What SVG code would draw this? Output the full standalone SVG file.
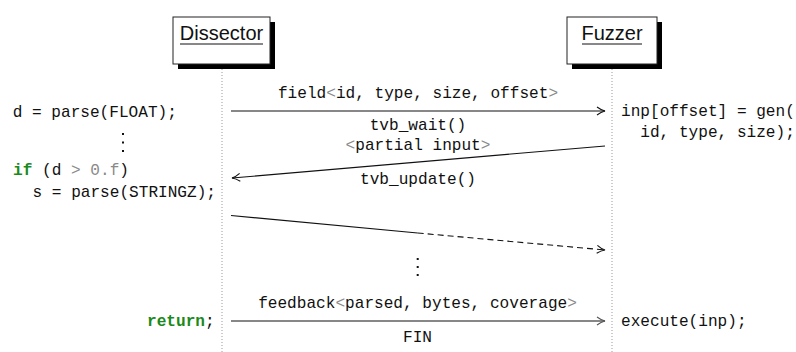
<svg xmlns="http://www.w3.org/2000/svg" width="796" height="352" viewBox="0 0 796 352">
<style>
.box{fill:#fff;stroke:#222;stroke-width:1}
.shadow{fill:#000}
.title{font-family:"Liberation Sans",Arial,sans-serif;font-size:20px;fill:#111;text-anchor:middle}
.code{font-family:"Liberation Mono","Courier New",monospace;font-size:16.1px;fill:#111}
.mid{text-anchor:middle}
.kw{fill:#1a8a1a;font-weight:bold}
.gr{fill:#8a8a8a}
.life{stroke:#9a9a9a;stroke-width:1;stroke-dasharray:1 2;fill:none}
.msg{stroke:#111;stroke-width:1.1;fill:none}
</style>
<defs>
<marker id="ah" viewBox="0 0 10 10" refX="9" refY="5" markerWidth="10" markerHeight="10" markerUnits="userSpaceOnUse" orient="auto">
<path d="M1,1 Q5,4 9,5 Q5,6 1,9" fill="none" stroke="#111" stroke-width="1.1"/>
</marker>
<marker id="ahg" viewBox="0 0 10 10" refX="9" refY="5" markerWidth="10" markerHeight="10" markerUnits="userSpaceOnUse" orient="auto">
<path d="M1,1 Q5,4 9,5 Q5,6 1,9" fill="none" stroke="#555" stroke-width="1.1"/>
</marker>
</defs>

<g id="lifelines">
<line class="life" x1="222" y1="69" x2="222" y2="352"/>
<line class="life" x1="612" y1="69" x2="612" y2="352"/>
</g>

<g id="dissector">
<rect class="shadow" x="178" y="22" width="97" height="47"/>
<rect class="box" x="173" y="17" width="97" height="47"/>
<text class="title" x="221.5" y="40">Dissector</text>
<line x1="180" y1="44" x2="263" y2="44" stroke="#111" stroke-width="1"/>
</g>

<g id="fuzzer">
<rect class="shadow" x="572" y="22" width="90" height="47"/>
<rect class="box" x="567" y="17" width="90" height="47"/>
<text class="title" x="612" y="40">Fuzzer</text>
<line x1="582" y1="44" x2="642" y2="44" stroke="#111" stroke-width="1"/>
</g>

<g id="dissector-code">
<text class="code" x="12.7" y="117">d = parse(FLOAT);</text>
<rect x="122" y="133" width="2" height="2" fill="#111"/>
<rect x="122" y="141.5" width="2" height="2" fill="#111"/>
<rect x="122" y="150" width="2" height="2" fill="#111"/>
<text class="code" x="13" y="175"><tspan class="kw">if</tspan> (d <tspan class="gr">&gt;</tspan> <tspan class="gr">0.f</tspan>)</text>
<text class="code" x="32.5" y="197">s = parse(STRINGZ);</text>
<text class="code" x="147" y="326"><tspan class="kw">return</tspan>;</text>
</g>

<g id="fuzzer-code">
<text class="code" x="621" y="116">inp[offset] = gen(</text>
<text class="code" x="640.3" y="137">id, type, size);</text>
<text class="code" x="621" y="326">execute(inp);</text>
</g>

<g id="connectors">
<line class="msg" x1="231" y1="111" x2="605" y2="111" marker-end="url(#ah)"/>
<line class="msg" x1="605" y1="146" x2="232" y2="178" marker-end="url(#ah)"/>
<line class="msg" x1="231" y1="215.5" x2="417.7" y2="233"/>
<line class="msg" x1="417.7" y1="233" x2="605" y2="250" stroke-dasharray="6 4" marker-end="url(#ah)"/>
<line class="msg" x1="231" y1="321" x2="605" y2="321" stroke="#555" marker-end="url(#ahg)"/>
</g>

<g id="labels">
<text class="code mid" x="418" y="98">field<tspan class="gr">&lt;</tspan>id, type, size, offset<tspan class="gr">&gt;</tspan></text>
<text class="code mid" x="418" y="130">tvb_wait()</text>
<text class="code mid" x="418" y="150"><tspan class="gr">&lt;</tspan>partial input<tspan class="gr">&gt;</tspan></text>
<text class="code mid" x="418" y="184">tvb_update()</text>
<text class="code mid" x="417.5" y="308">feedback<tspan class="gr">&lt;</tspan>parsed, bytes, coverage<tspan class="gr">&gt;</tspan></text>
<text class="code mid" x="417.5" y="342">FIN</text>
<rect x="416.7" y="258" width="2" height="2" fill="#111"/>
<rect x="416.7" y="266" width="2" height="2" fill="#111"/>
<rect x="416.7" y="274" width="2" height="2" fill="#111"/>
</g>
</svg>
